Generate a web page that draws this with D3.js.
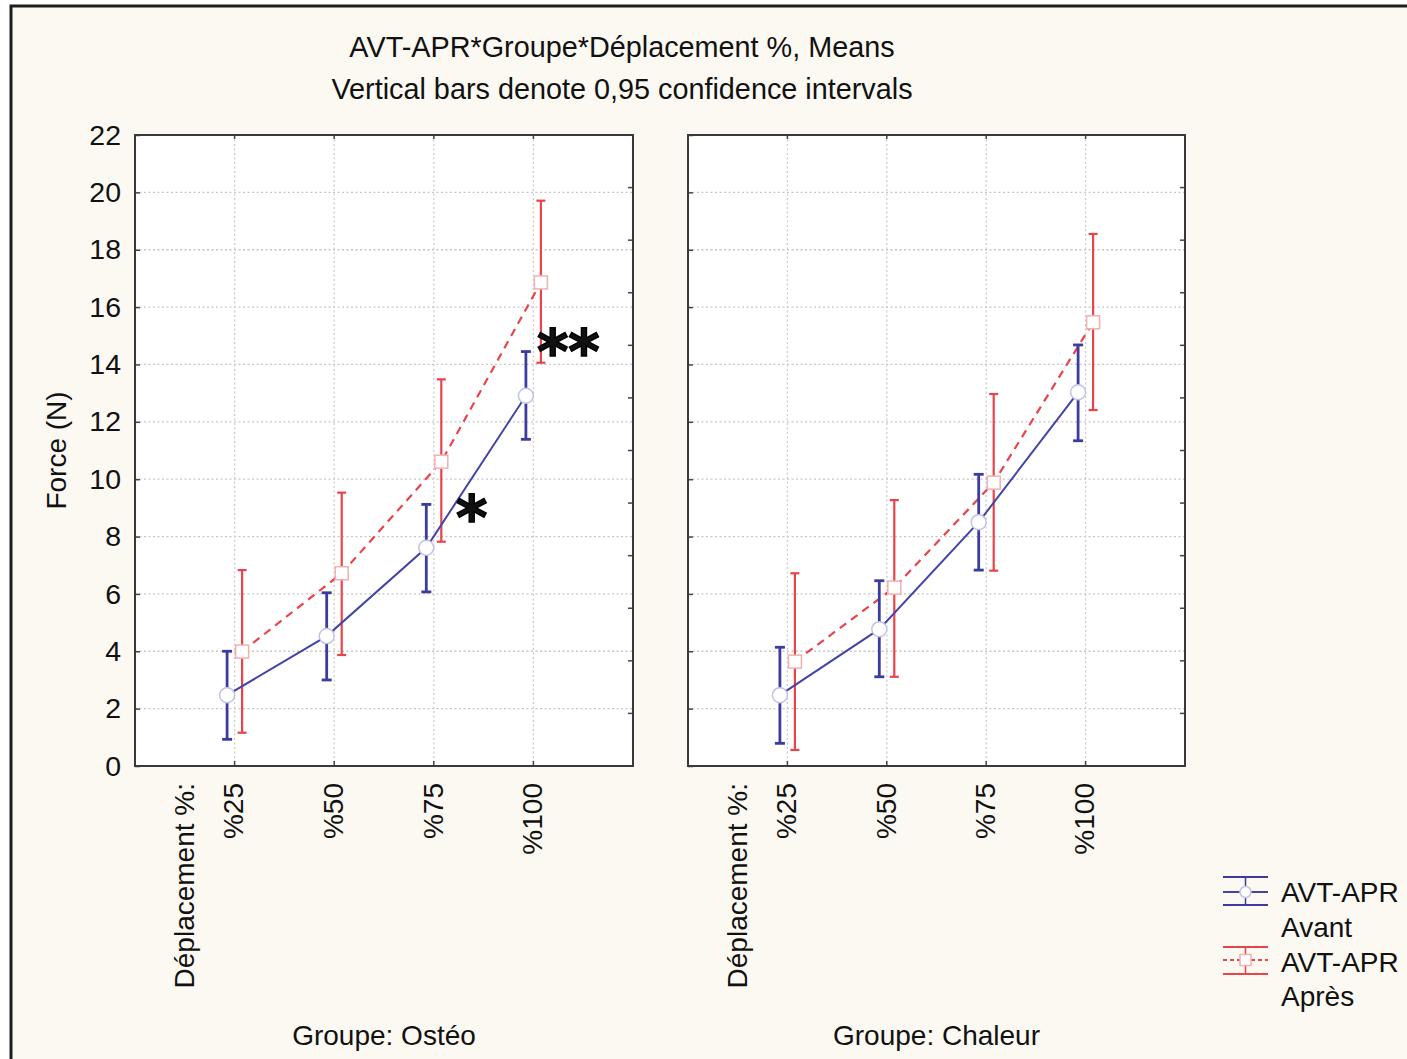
<!DOCTYPE html>
<html>
<head>
<meta charset="utf-8">
<script src="https://cdn.jsdelivr.net/npm/d3@7"></script>
<style>
  html, body { margin: 0; padding: 0; background: #ffffff; }
  svg { display: block; }
  text { font-family: "Liberation Sans", Arial, Helvetica, sans-serif; fill: #111; }
</style>
</head>
<body>
<svg id="chart" width="1407" height="1059"></svg>
<script>
// ---------- data ----------
const categories = ["%25", "%50", "%75", "%100"];
const groups = ["Ostéo", "Chaleur"];
const seriesNames = ["Avant", "Après"];
const yTicks = [0, 2, 4, 6, 8, 10, 12, 14, 16, 18, 20, 22];

// Groupe: Ostéo
const osteoAvantMean = [2.47, 4.53, 7.61, 12.91];
const osteoAvantLow  = [0.93, 3.00, 6.07, 11.39];
const osteoAvantHigh = [4.00, 6.04, 9.12, 14.45];
const osteoApresMean = [3.99, 6.72, 10.61, 16.86];
const osteoApresLow  = [1.16, 3.87, 7.82, 14.06];
const osteoApresHigh = [6.83, 9.53, 13.48, 19.71];

// Groupe: Chaleur
const chaleurAvantMean = [2.47, 4.77, 8.50, 13.03];
const chaleurAvantLow  = [0.79, 3.11, 6.83, 11.34];
const chaleurAvantHigh = [4.14, 6.46, 10.17, 14.68];
const chaleurApresMean = [3.64, 6.22, 9.88, 15.47];
const chaleurApresLow  = [0.56, 3.11, 6.81, 12.41];
const chaleurApresHigh = [6.72, 9.27, 12.97, 18.55];

// significance annotations (Ostéo panel)
const annotPos = [3.38, 4.35];
const annotVal = [8.96, 14.75];
const annotText = ["*", "**"];

// ---------- build ----------
const panelData = [
  { group: groups[0], series: [
      { name: seriesNames[0], mean: osteoAvantMean, low: osteoAvantLow, high: osteoAvantHigh },
      { name: seriesNames[1], mean: osteoApresMean, low: osteoApresLow, high: osteoApresHigh } ] },
  { group: groups[1], series: [
      { name: seriesNames[0], mean: chaleurAvantMean, low: chaleurAvantLow, high: chaleurAvantHigh },
      { name: seriesNames[1], mean: chaleurApresMean, low: chaleurApresLow, high: chaleurApresHigh } ] }
];

const svg = d3.select("#chart");
const W = 1407, H = 1059;
const FONT = 28;

// page background + outer frame
svg.append("rect").attr("x", 0).attr("y", 0).attr("width", W).attr("height", H).attr("fill", "#ffffff");
svg.append("rect").attr("x", 11).attr("y", 6).attr("width", W + 20).attr("height", H + 20)
  .attr("fill", "#fcf9f2").attr("stroke", "#1e1e1e").attr("stroke-width", 3);

// title
svg.append("text").attr("x", 622).attr("y", 57).attr("text-anchor", "middle")
  .style("font-size", "28.8px").text("AVT-APR*Groupe*Déplacement %, Means");
svg.append("text").attr("x", 622).attr("y", 99).attr("text-anchor", "middle")
  .style("font-size", "28.8px").text("Vertical bars denote 0,95 confidence intervals");

const plotTop = 135, plotBottom = 766;
const panelX = [[135, 633], [688, 1185]];
const y = d3.scaleLinear().domain([0, 22]).range([plotBottom, plotTop]);

const styles = [
  { line: "#4444a8", bar: "#3c3ca0", barW: 2.8, lineW: 2.0, dash: null, cap: 5, markStroke: "#c2c2e6" },
  { line: "#e8444a", bar: "#e8444a", barW: 2.2, lineW: 2.2, dash: "8,6", cap: 4.5, markStroke: "#f3b0b0" }
];
const offsets = [-7.5, 7.5];

// Force (N) label
svg.append("text").attr("transform", `translate(66, ${(plotTop + plotBottom) / 2}) rotate(-90)`)
  .attr("text-anchor", "middle").style("font-size", FONT + "px").text("Force (N)");

panelData.forEach((p, pi) => {
  const [x0, x1] = panelX[pi];
  const x = d3.scaleLinear().domain([0, 5]).range([x0, x1]);
  const g = svg.append("g");

  g.append("rect").attr("x", x0).attr("y", plotTop).attr("width", x1 - x0).attr("height", plotBottom - plotTop)
    .attr("fill", "#ffffff");

  // gridlines
  g.selectAll(".hg").data(yTicks.filter(t => t > 0 && t < 22)).join("line")
    .attr("x1", x0).attr("x2", x1).attr("y1", d => y(d)).attr("y2", d => y(d))
    .attr("stroke", "#c6c6c6").attr("stroke-width", 1.3).attr("stroke-dasharray", "2,2.5");
  g.selectAll(".vg").data(categories).join("line")
    .attr("x1", (d, i) => x(i + 1)).attr("x2", (d, i) => x(i + 1)).attr("y1", plotTop).attr("y2", plotBottom)
    .attr("stroke", "#cdcdcd").attr("stroke-width", 1.3).attr("stroke-dasharray", "2,2.5");

  // left axis (inward ticks)
  const yAxis = d3.axisLeft(y).tickValues(yTicks).tickSizeInner(-5).tickSizeOuter(0).tickPadding(14)
    .tickFormat(pi === 0 ? d3.format("d") : () => "");
  const ya = g.append("g").attr("transform", `translate(${x0},0)`).call(yAxis);
  ya.select(".domain").remove();
  ya.selectAll(".tick line").attr("stroke", "#444").attr("stroke-width", 1.5);
  ya.selectAll(".tick text").style("font-size", "28.5px").style("font-family", "'Liberation Sans', Arial, sans-serif").attr("fill", "#111");

  // right axis ticks (12 intervals)
  const yR = d3.scaleLinear().domain([0, 12]).range([plotBottom, plotTop]);
  g.selectAll(".rt").data(d3.range(1, 12)).join("line")
    .attr("x1", x1).attr("x2", x1 - 5).attr("y1", d => yR(d)).attr("y2", d => yR(d))
    .attr("stroke", "#444").attr("stroke-width", 1.5);

  // top & bottom ticks at categories
  g.selectAll(".tt").data(categories).join("line")
    .attr("x1", (d, i) => x(i + 1)).attr("x2", (d, i) => x(i + 1)).attr("y1", plotTop).attr("y2", plotTop + 4)
    .attr("stroke", "#444").attr("stroke-width", 1.5);
  g.selectAll(".bt").data(categories).join("line")
    .attr("x1", (d, i) => x(i + 1)).attr("x2", (d, i) => x(i + 1)).attr("y1", plotBottom).attr("y2", plotBottom - 5)
    .attr("stroke", "#444").attr("stroke-width", 1.5);

  // frame
  g.append("rect").attr("x", x0).attr("y", plotTop).attr("width", x1 - x0).attr("height", plotBottom - plotTop)
    .attr("fill", "none").attr("stroke", "#3a3a3a").attr("stroke-width", 2);

  // x tick labels (rotated)
  g.selectAll(".xl").data(categories).join("text")
    .attr("transform", (d, i) => `translate(${x(i + 1) - 1}, 783) rotate(-90)`)
    .attr("text-anchor", "end").attr("dy", "0.35em").style("font-size", FONT + "px").text(d => d);
  g.append("text").attr("transform", `translate(${x(0.5) - 1}, 783) rotate(-90)`)
    .attr("text-anchor", "end").attr("dy", "0.35em").style("font-size", FONT + "px").text("Déplacement %:");

  // group label
  g.append("text").attr("x", (x0 + x1) / 2).attr("y", 1045).attr("text-anchor", "middle")
    .style("font-size", FONT + "px").text("Groupe: " + p.group);

  // series
  const order = [1, 0];
  order.forEach(si => {
    const s = p.series[si], st = styles[si], off = offsets[si];
    const pts = s.mean.map((m, i) => ({ xx: x(i + 1) + off, m, lo: s.low[i], hi: s.high[i] }));
    const eg = g.append("g");
    eg.selectAll(".eb").data(pts).join("line")
      .attr("x1", d => d.xx).attr("x2", d => d.xx).attr("y1", d => y(d.lo)).attr("y2", d => y(d.hi))
      .attr("stroke", st.bar).attr("stroke-width", st.barW);
    eg.selectAll(".ct").data(pts).join("line")
      .attr("x1", d => d.xx - st.cap).attr("x2", d => d.xx + st.cap).attr("y1", d => y(d.hi)).attr("y2", d => y(d.hi))
      .attr("stroke", st.bar).attr("stroke-width", st.barW);
    eg.selectAll(".cb").data(pts).join("line")
      .attr("x1", d => d.xx - st.cap).attr("x2", d => d.xx + st.cap).attr("y1", d => y(d.lo)).attr("y2", d => y(d.lo))
      .attr("stroke", st.bar).attr("stroke-width", st.barW);
    const line = d3.line().x(d => d.xx).y(d => y(d.m));
    eg.append("path").datum(pts).attr("d", line).attr("fill", "none")
      .attr("stroke", st.line).attr("stroke-width", st.lineW)
      .attr("stroke-dasharray", st.dash);
  });
  order.forEach(si => {
    const s = p.series[si], st = styles[si], off = offsets[si];
    const pts = s.mean.map((m, i) => ({ xx: x(i + 1) + off, m }));
    if (si === 0) {
      g.selectAll(".mc" + pi).data(pts).join("circle")
        .attr("cx", d => d.xx).attr("cy", d => y(d.m)).attr("r", 7.5)
        .attr("fill", "#ffffff").attr("stroke", st.markStroke).attr("stroke-width", 1.5);
    } else {
      g.selectAll(".ms" + pi).data(pts).join("rect")
        .attr("x", d => d.xx - 6.5).attr("y", d => y(d.m) - 6.5).attr("width", 13).attr("height", 13)
        .attr("fill", "#ffffff").attr("stroke", st.markStroke).attr("stroke-width", 1.5);
    }
  });

  // annotations
  if (pi === 0) {
    annotText.forEach((t, i) => {
      const tx = svg.append("text").attr("x", 0).attr("y", 0)
        .style("font-family", "'DejaVu Sans', sans-serif").style("font-weight", "bold")
        .style("font-size", "60px").attr("fill", "#000")
        .attr("stroke", "#000").attr("stroke-width", 1.5).text(t);
      const bb = tx.node().getBBox();
      const cx = x(annotPos[i]), cy = y(annotVal[i]);
      tx.attr("x", cx - bb.width / 2).attr("y", cy + 0.5 * 60);
    });
  }
});

// legend
const lg = svg.append("g");
const legY = [[877, 892, 905], [947, 960, 974]];
const legX0 = 1223, legX1 = 1268, legXc = 1245.5;
styles.forEach((st, i) => {
  const [t, m, b] = legY[i];
  lg.append("line").attr("x1", legX0).attr("x2", legX1).attr("y1", t).attr("y2", t).attr("stroke", st.bar).attr("stroke-width", 2);
  lg.append("line").attr("x1", legX0).attr("x2", legX1).attr("y1", b).attr("y2", b).attr("stroke", st.bar).attr("stroke-width", 2);
  lg.append("line").attr("x1", legXc).attr("x2", legXc).attr("y1", t).attr("y2", b).attr("stroke", st.bar).attr("stroke-width", 1.5);
  lg.append("line").attr("x1", legX0).attr("x2", legX1).attr("y1", m).attr("y2", m).attr("stroke", st.line).attr("stroke-width", 1.8)
    .attr("stroke-dasharray", i === 1 ? "4,3" : null);
  if (i === 0) {
    lg.append("circle").attr("cx", legXc).attr("cy", m).attr("r", 5.5).attr("fill", "#fff").attr("stroke", st.markStroke).attr("stroke-width", 1.5);
  } else {
    lg.append("rect").attr("x", legXc - 5.5).attr("y", m - 5.5).attr("width", 11).attr("height", 11).attr("fill", "#fff").attr("stroke", st.markStroke).attr("stroke-width", 1.5);
  }
});
const legText = ["AVT-APR", seriesNames[0], "AVT-APR", seriesNames[1]];
const legBase = [902, 937, 972, 1006];
lg.selectAll(".lt").data(legText).join("text")
  .attr("x", 1281).attr("y", (d, i) => legBase[i]).style("font-size", FONT + "px").text(d => d);
</script>
</body>
</html>
